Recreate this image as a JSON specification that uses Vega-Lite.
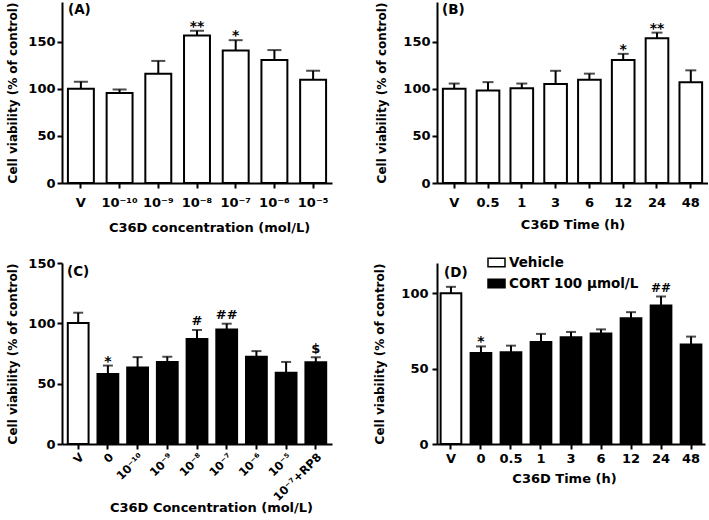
{
  "$schema": "https://vega.github.io/schema/vega-lite/v6.json",
  "padding": {"left": 6, "top": 2, "right": 0, "bottom": 0},
  "bounds": "flush",
  "columns": 2,
  "spacing": {"row": 80, "column": 105},
  "resolve": {"scale": {"fill": "independent"}, "legend": {"fill": "independent"}},
  "datasets": {
    "A": [
      {"cat": "V", "val": 100, "hi": 107.5, "sig": ""},
      {"cat": "10⁻¹⁰", "val": 95.5, "hi": 99.2, "sig": ""},
      {"cat": "10⁻⁹", "val": 116, "hi": 129.5, "sig": ""},
      {"cat": "10⁻⁸", "val": 156.5, "hi": 161.5, "sig": "**"},
      {"cat": "10⁻⁷", "val": 140.5, "hi": 151.5, "sig": "*"},
      {"cat": "10⁻⁶", "val": 130.5, "hi": 141, "sig": ""},
      {"cat": "10⁻⁵", "val": 109.5, "hi": 119, "sig": ""}
    ],
    "B": [
      {"cat": "V", "val": 100, "hi": 105.5, "sig": ""},
      {"cat": "0.5", "val": 98, "hi": 107, "sig": ""},
      {"cat": "1", "val": 100.5, "hi": 105.5, "sig": ""},
      {"cat": "3", "val": 105, "hi": 119, "sig": ""},
      {"cat": "6", "val": 109.5, "hi": 116, "sig": ""},
      {"cat": "12", "val": 130.5, "hi": 137, "sig": "*"},
      {"cat": "24", "val": 153.5, "hi": 159.5, "sig": "**"},
      {"cat": "48", "val": 107, "hi": 119.5, "sig": ""}
    ],
    "C": [
      {"cat": "V", "val": 100.3, "hi": 108.8, "sig": "", "group": "Vehicle"},
      {"cat": "0", "val": 58, "hi": 65, "sig": "*", "group": "CORT 100 µmol/L"},
      {"cat": "10⁻¹⁰", "val": 63.5, "hi": 72, "sig": "", "group": "CORT 100 µmol/L"},
      {"cat": "10⁻⁹", "val": 68, "hi": 72.3, "sig": "", "group": "CORT 100 µmol/L"},
      {"cat": "10⁻⁸", "val": 87, "hi": 94.5, "sig": "#", "group": "CORT 100 µmol/L"},
      {"cat": "10⁻⁷", "val": 94.8, "hi": 99.7, "sig": "##", "group": "CORT 100 µmol/L"},
      {"cat": "10⁻⁶", "val": 72.4, "hi": 77, "sig": "", "group": "CORT 100 µmol/L"},
      {"cat": "10⁻⁵", "val": 59, "hi": 68, "sig": "", "group": "CORT 100 µmol/L"},
      {"cat": "10⁻⁷+RP8", "val": 67.7, "hi": 71.8, "sig": "$", "group": "CORT 100 µmol/L"}
    ],
    "D": [
      {"cat": "V", "val": 100, "hi": 104.2, "sig": "", "group": "Vehicle"},
      {"cat": "0", "val": 60.3, "hi": 64.7, "sig": "*", "group": "CORT 100 µmol/L"},
      {"cat": "0.5", "val": 60.8, "hi": 65.2, "sig": "", "group": "CORT 100 µmol/L"},
      {"cat": "1", "val": 67.6, "hi": 73, "sig": "", "group": "CORT 100 µmol/L"},
      {"cat": "3", "val": 70.7, "hi": 74.3, "sig": "", "group": "CORT 100 µmol/L"},
      {"cat": "6", "val": 73.2, "hi": 76, "sig": "", "group": "CORT 100 µmol/L"},
      {"cat": "12", "val": 83.4, "hi": 87.4, "sig": "", "group": "CORT 100 µmol/L"},
      {"cat": "24", "val": 91.8, "hi": 97.8, "sig": "##", "group": "CORT 100 µmol/L"},
      {"cat": "48", "val": 65.9, "hi": 71.2, "sig": "", "group": "CORT 100 µmol/L"}
    ]
  },
  "concat": [
    {
      "data": {"name": "A"},
      "width": 270,
      "height": 181,
      "title": {"text": "(A)", "anchor": "start", "frame": "group", "offset": -14, "dx": 6},
      "encoding": {
        "x": {"field": "cat", "type": "nominal", "sort": null, "title": "C36D concentration (mol/L)",
          "scale": {"paddingInner": 0.33, "paddingOuter": 0.153},
          "axis": {"labelAngle": 0, "labelPadding": 8, "titlePadding": 12, "titleX": 147}}
      },
      "layer": [
        {"mark": {"type": "bar", "fill": "white", "stroke": "black", "strokeWidth": 2},
          "encoding": {"y": {"field": "val", "type": "quantitative", "title": "Cell viability (% of control)",
            "scale": {"domain": [0, 192], "nice": false},
            "axis": {"values": [0, 50, 100, 150], "labelPadding": 2, "titlePadding": 8}}}},
        {"mark": {"type": "rule", "color": "black", "strokeWidth": 2},
          "encoding": {"y": {"field": "val", "type": "quantitative", "title": "Cell viability (% of control)"}, "y2": {"field": "hi"}}},
        {"mark": {"type": "tick", "color": "black", "thickness": 2, "size": 14},
          "encoding": {"y": {"field": "hi", "type": "quantitative", "title": "Cell viability (% of control)"}}},
        {"transform": [{"filter": "datum.sig != ''"}],
          "mark": {"type": "text", "fontSize": 14, "fontWeight": "bold", "fill": "black", "baseline": "alphabetic", "dy": 0},
          "encoding": {"y": {"field": "hi", "type": "quantitative", "title": "Cell viability (% of control)"}, "text": {"field": "sig"}}}
      ]
    },
    {
      "data": {"name": "B"},
      "width": 271,
      "height": 181,
      "title": {"text": "(B)", "anchor": "start", "frame": "group", "offset": -14, "dx": 5},
      "encoding": {
        "x": {"field": "cat", "type": "nominal", "sort": null, "title": "C36D Time (h)",
          "scale": {"paddingInner": 0.33, "paddingOuter": 0.174},
          "axis": {"labelAngle": 0, "labelPadding": 8, "titlePadding": 9}}
      },
      "layer": [
        {"mark": {"type": "bar", "fill": "white", "stroke": "black", "strokeWidth": 2},
          "encoding": {"y": {"field": "val", "type": "quantitative", "title": "Cell viability (% of control)",
            "scale": {"domain": [0, 192], "nice": false},
            "axis": {"values": [0, 50, 100, 150], "labelPadding": 2, "titlePadding": 14}}}},
        {"mark": {"type": "rule", "color": "black", "strokeWidth": 2},
          "encoding": {"y": {"field": "val", "type": "quantitative", "title": "Cell viability (% of control)"}, "y2": {"field": "hi"}}},
        {"mark": {"type": "tick", "color": "black", "thickness": 2, "size": 11},
          "encoding": {"y": {"field": "hi", "type": "quantitative", "title": "Cell viability (% of control)"}}},
        {"transform": [{"filter": "datum.sig != ''"}],
          "mark": {"type": "text", "fontSize": 14, "fontWeight": "bold", "fill": "black", "baseline": "alphabetic", "dy": 0},
          "encoding": {"y": {"field": "hi", "type": "quantitative", "title": "Cell viability (% of control)"}, "text": {"field": "sig"}}}
      ]
    },
    {
      "data": {"name": "C"},
      "width": 270,
      "height": 181,
      "title": {"text": "(C)", "anchor": "start", "frame": "group", "offset": -21, "dx": 5},
      "encoding": {
        "x": {"field": "cat", "type": "nominal", "sort": null, "title": "C36D Concentration (mol/L)",
          "scale": {"paddingInner": 0.3, "paddingOuter": 0.195},
          "axis": {"labelAngle": -45, "labelPadding": 2, "labelFontSize": 11.5, "titleX": 149, "titleY": 57, "titleBaseline": "top"}}
      },
      "layer": [
        {"mark": {"type": "bar", "stroke": "black", "strokeWidth": 2},
          "encoding": {
            "fill": {"condition": {"test": "datum.group === 'Vehicle'", "value": "white"}, "value": "black"},
            "y": {"field": "val", "type": "quantitative", "title": "Cell viability (% of control)",
            "scale": {"domain": [0, 150], "nice": false},
            "axis": {"values": [0, 50, 100, 150], "labelPadding": 2, "titlePadding": 8}}}},
        {"mark": {"type": "rule", "color": "black", "strokeWidth": 2},
          "encoding": {"y": {"field": "val", "type": "quantitative", "title": "Cell viability (% of control)"}, "y2": {"field": "hi"}}},
        {"mark": {"type": "tick", "color": "black", "thickness": 2, "size": 10},
          "encoding": {"y": {"field": "hi", "type": "quantitative", "title": "Cell viability (% of control)"}}},
        {"transform": [{"filter": "datum.sig === '*' || datum.sig === '**'"}],
          "mark": {"type": "text", "fontSize": 14, "fontWeight": "bold", "fill": "black", "baseline": "alphabetic", "dy": 0},
          "encoding": {"y": {"field": "hi", "type": "quantitative", "title": "Cell viability (% of control)"}, "text": {"field": "sig"}}},
        {"transform": [{"filter": "datum.sig !== '' && datum.sig !== '*' && datum.sig !== '**'"}],
          "mark": {"type": "text", "fontSize": 13, "fontWeight": "bold", "fill": "black", "baseline": "alphabetic", "dy": -4.5},
          "encoding": {"y": {"field": "hi", "type": "quantitative", "title": "Cell viability (% of control)"}, "text": {"field": "sig"}}}
      ]
    },
    {
      "data": {"name": "D"},
      "width": 268,
      "height": 181,
      "title": {"text": "(D)", "anchor": "start", "frame": "group", "offset": -26, "dx": 7},
      "encoding": {
        "x": {"field": "cat", "type": "nominal", "sort": null, "title": "C36D Time (h)",
          "scale": {"paddingInner": 0.31, "paddingOuter": 0.12},
          "axis": {"labelAngle": 0, "labelPadding": 3, "titlePadding": 7, "titleX": 127}}
      },
      "layer": [
        {"mark": {"type": "bar", "stroke": "black", "strokeWidth": 2},
          "encoding": {
            "fill": {"field": "group", "type": "nominal", "sort": null,
              "scale": {"domain": ["Vehicle", "CORT 100 µmol/L"], "range": ["white", "black"]},
              "legend": {"orient": "none", "legendX": 50, "legendY": -10, "direction": "vertical", "title": null,
                "symbolType": "M-1,-0.5H1V0.5H-1Z", "symbolSize": 289, "symbolStrokeColor": "black", "symbolStrokeWidth": 1.5,
                "labelFont": "DejaVu Sans", "labelFontWeight": "bold", "labelFontSize": 13.5, "labelColor": "black",
                "labelOffset": 3, "rowPadding": 4, "padding": 0}},
            "y": {"field": "val", "type": "quantitative", "title": "Cell viability (% of control)",
            "scale": {"domain": [0, 120], "nice": false},
            "axis": {"values": [0, 50, 100], "labelPadding": 4, "titlePadding": 14}}}},
        {"mark": {"type": "rule", "color": "black", "strokeWidth": 2},
          "encoding": {"y": {"field": "val", "type": "quantitative", "title": "Cell viability (% of control)"}, "y2": {"field": "hi"}}},
        {"mark": {"type": "tick", "color": "black", "thickness": 2, "size": 10},
          "encoding": {"y": {"field": "hi", "type": "quantitative", "title": "Cell viability (% of control)"}}},
        {"transform": [{"filter": "datum.sig === '*' || datum.sig === '**'"}],
          "mark": {"type": "text", "fontSize": 14, "fontWeight": "bold", "fill": "black", "baseline": "alphabetic", "dy": 0},
          "encoding": {"y": {"field": "hi", "type": "quantitative", "title": "Cell viability (% of control)"}, "text": {"field": "sig"}}},
        {"transform": [{"filter": "datum.sig !== '' && datum.sig !== '*' && datum.sig !== '**'"}],
          "mark": {"type": "text", "fontSize": 12, "fontWeight": "bold", "fill": "black", "baseline": "alphabetic", "dy": -4.5},
          "encoding": {"y": {"field": "hi", "type": "quantitative", "title": "Cell viability (% of control)"}, "text": {"field": "sig"}}}
      ]
    }
  ],
  "config": {
    "font": "DejaVu Sans",
    "background": "white",
    "view": {"stroke": null},
    "axis": {
      "grid": false,
      "domainColor": "black", "domainWidth": 2,
      "tickColor": "black", "tickWidth": 2, "tickSize": 5,
      "labelFont": "DejaVu Sans", "labelFontWeight": "bold", "labelFontSize": 13, "labelColor": "black",
      "titleFont": "DejaVu Sans", "titleFontWeight": "bold", "titleFontSize": 13, "titleColor": "black"
    },
    "axisY": {"titleFontSize": 12},
    "title": {"font": "DejaVu Sans", "fontWeight": "bold", "fontSize": 13.5, "color": "black"}
  }
}
